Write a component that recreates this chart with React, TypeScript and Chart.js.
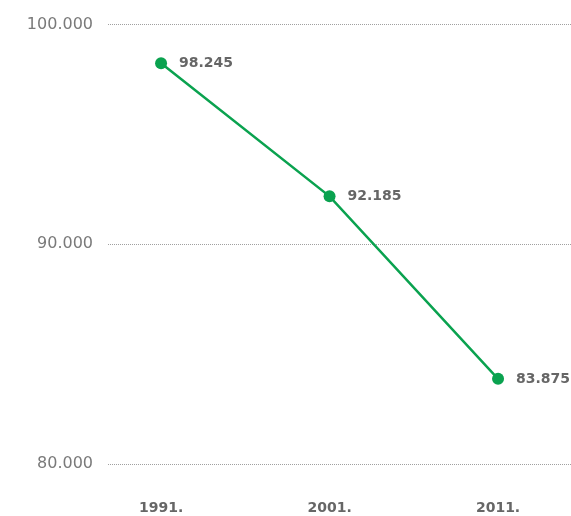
import React, { useEffect, useRef } from "react";
import { Chart, registerables } from "chart.js";

Chart.register(...registerables);

const years = [1991, 2001, 2011];
const population = [98245, 92185, 83875];
const yTicks = [80000, 90000, 100000];

const fmt = (v: number) => {
  const s = Math.round(v).toString();
  return s.replace(/\B(?=(\d{3})+(?!\d))/g, ".");
};

const GREEN = "#0aa24f";
const FONT = '"DejaVu Sans", sans-serif';

const labelPlugin = {
  id: "pointLabels",
  afterDatasetsDraw(chart: any) {
    const ctx = chart.ctx;
    const meta = chart.getDatasetMeta(0);
    ctx.save();
    ctx.font = `bold 14px ${FONT}`;
    ctx.fillStyle = "#666666";
    ctx.textAlign = "left";
    ctx.textBaseline = "middle";
    meta.data.forEach((pt: any, i: number) => {
      ctx.fillText(fmt(population[i]), pt.x + 18, pt.y);
    });
    ctx.restore();
  },
};

export default function App() {
  const ref = useRef<HTMLCanvasElement>(null);
  useEffect(() => {
    if (!ref.current) return;
    const chart = new Chart(ref.current, {
      type: "line",
      data: {
        datasets: [
          {
            data: years.map((y, i) => ({ x: y, y: population[i] })),
            borderColor: GREEN,
            backgroundColor: GREEN,
            borderWidth: 2.5,
            pointRadius: 6,
            pointHoverRadius: 6,
            pointBackgroundColor: GREEN,
            pointBorderWidth: 0,
            tension: 0,
            clip: false as any,
          },
        ],
      },
      options: {
        animation: false,
        responsive: false,
        layout: { autoPadding: false, padding: { left: 8, right: 0, top: 23, bottom: 0 } },
        plugins: { legend: { display: false }, tooltip: { enabled: false } },
        scales: {
          x: {
            type: "linear",
            min: 1987.85,
            max: 2015.33,
            afterBuildTicks: (scale: any) => {
              scale.ticks = years.map((v) => ({ value: v }));
            },
            afterFit: (scale: any) => {
              scale.height = 52;
              scale.paddingLeft = 0;
              scale.paddingRight = 0;
            },
            grid: { display: false, drawTicks: false },
            border: { display: false },
            ticks: {
              autoSkip: false,
              maxRotation: 0,
              padding: 36,
              color: "#666666",
              font: { family: FONT, size: 14, weight: "bold" },
              callback: (v: any) => `${v}.`,
            },
          },
          y: {
            min: 80000,
            max: 100000,
            afterBuildTicks: (scale: any) => {
              scale.ticks = yTicks.map((v) => ({ value: v }));
            },
            afterFit: (scale: any) => {
              scale.width = 100;
            },
            grid: {
              color: "#a0a0a0",
              lineWidth: 1,
              drawTicks: false,
            },
            border: { display: false, dash: [1, 1] },
            ticks: {
              padding: 15,
              color: "#7a7a7a",
              font: { family: FONT, size: 16 },
              callback: (v: any) => fmt(Number(v)),
            },
          },
        },
      },
      plugins: [labelPlugin],
    });
    return () => chart.destroy();
  }, []);
  return (
    <div
      style={{
        position: "fixed",
        left: 0,
        top: 0,
        width: 571,
        height: 516,
        background: "#fff",
      }}
    >
      <canvas ref={ref} width={571} height={516} style={{ width: 571, height: 516, display: "block" }} />
    </div>
  );
}
